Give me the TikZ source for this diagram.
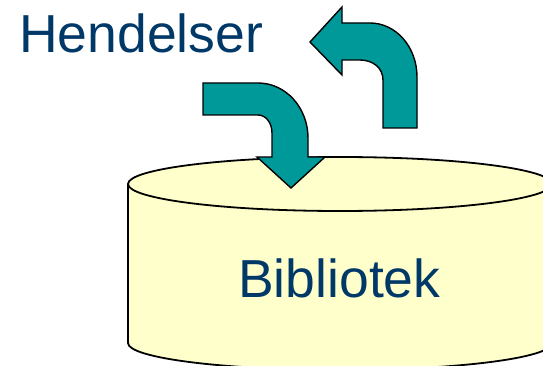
\documentclass[tikz,border=0pt]{standalone}
\usepackage{fontspec}
\setmainfont{Liberation Sans}
\definecolor{txtblue}{RGB}{0,56,104}
\definecolor{teal}{RGB}{0,153,153}
\definecolor{cylfill}{RGB}{255,255,204}
\begin{document}
\begin{tikzpicture}[x=1pt,y=-1pt,
  lbl/.style={anchor=base west,inner sep=0pt,text=txtblue,font=\fontsize{53.5}{60}\selectfont},
  bentarrow/.style={fill=teal,draw=black,line width=1.4pt,line join=miter},
  cyl/.style={fill=cylfill,draw=black,line width=1.8pt}]
\useasboundingbox (0,0) rectangle (543,366);
% cylinder
\path[cyl] (128,184) -- (128,343) arc[start angle=180,end angle=360,x radius=212,y radius=-27] -- (552,184);
\path[cyl] (340,184) ellipse[x radius=212,y radius=27];
\node[lbl] (bib) at (238,297) {Bibliotek};
\node[lbl] (hend) at (19,53) {Hendelser};
% down arrow
\path[bentarrow] (203,83) -- (258,83) .. controls (286,83) and (308,108) .. (308,138)
  -- (308,157) -- (325,157) -- (291,188) -- (257,157) -- (272,157) -- (272,133)
  .. controls (272,123) and (266,115) .. (258,115) -- (203,115) -- cycle;
% up arrow
\path[bentarrow] (383,128) -- (417,128) -- (417,77) .. controls (417,47) and (396,23) .. (370,23)
  -- (342,23) -- (342,7) -- (310,42) -- (342,75) -- (342,60) -- (360,60)
  .. controls (373,60) and (383,68) .. (383,80) -- cycle;
\end{tikzpicture}
\end{document}
